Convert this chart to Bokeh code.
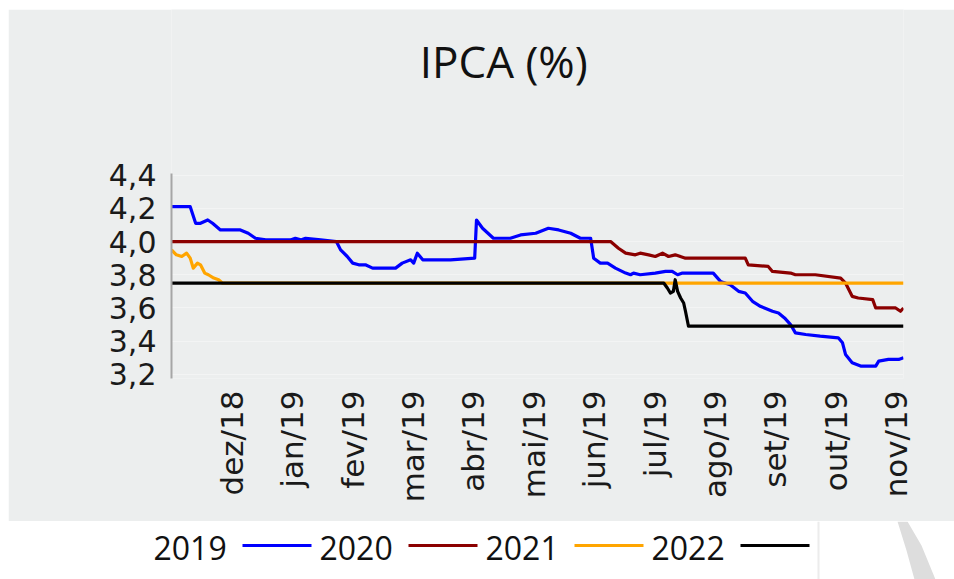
import math
from bokeh.plotting import figure
from bokeh.models import Range1d, FixedTicker, CustomJSTickFormatter
from bokeh.embed import file_html
from bokeh.resources import INLINE
from bokeh.core.properties import value

# ---------------- data ----------------
month_labels = ["dez/18", "jan/19", "fev/19", "mar/19", "abr/19", "mai/19",
                "jun/19", "jul/19", "ago/19", "set/19", "out/19", "nov/19"]
month_pos = [1, 2, 3, 4, 5, 6, 7, 8, 9, 10, 11, 12]
y_ticks = [3.2, 3.4, 3.6, 3.8, 4.0, 4.2, 4.4]
years = ["2019", "2020", "2021", "2022"]
colors = ["#0000ff", "#8b0000", "#ffa500", "#000000"]
title_text = "IPCA (%)"

x_2019 = [0, 0.31, 0.40, 0.48, 0.60, 0.68, 0.81, 1.14, 1.27, 1.39, 1.56, 1.97, 2.05, 2.14,
          2.22, 2.47, 2.73, 2.80, 2.91, 3.00, 3.10, 3.21, 3.33, 3.71, 3.82, 3.96, 4.01,
          4.07, 4.16, 4.29, 4.62, 5.02, 5.05, 5.15, 5.33, 5.61, 5.78, 6.03, 6.24, 6.41,
          6.61, 6.77, 6.94, 6.99, 7.10, 7.22, 7.35, 7.52, 7.60, 7.65, 7.76, 8.01, 8.18,
          8.29, 8.38, 8.46, 8.97, 9.09, 9.25, 9.39, 9.50, 9.62, 9.75, 9.95, 10.05, 10.15,
          10.25, 10.33, 10.50, 10.74, 11.04, 11.11, 11.16, 11.27, 11.41, 11.66, 11.71,
          11.87, 12.04, 12.12]
v_2019 = [4.21, 4.21, 4.11, 4.11, 4.13, 4.11, 4.07, 4.07, 4.05, 4.02, 4.01, 4.01, 4.02, 4.01,
          4.02, 4.01, 4.00, 3.95, 3.91, 3.87, 3.86, 3.86, 3.84, 3.84, 3.87, 3.89, 3.87,
          3.93, 3.89, 3.89, 3.89, 3.90, 4.13, 4.08, 4.02, 4.02, 4.04, 4.05, 4.08, 4.07,
          4.05, 4.02, 4.02, 3.90, 3.87, 3.87, 3.84, 3.81, 3.80, 3.81, 3.80, 3.81, 3.82,
          3.82, 3.80, 3.81, 3.81, 3.76, 3.74, 3.70, 3.69, 3.64, 3.61, 3.58, 3.57, 3.54,
          3.50, 3.45, 3.44, 3.43, 3.42, 3.39, 3.32, 3.27, 3.25, 3.25, 3.28,
          3.29, 3.29, 3.30]

x_2020 = [0, 7.27, 7.40, 7.52, 7.68, 7.76, 7.90, 8.01, 8.13, 8.23, 8.34, 8.51, 9.50, 9.55,
          9.88, 9.95, 10.25, 10.33, 10.66, 11.08, 11.16, 11.27, 11.37, 11.61, 11.66, 11.99,
          12.07, 12.12]
v_2020 = [4.00, 4.00, 3.96, 3.93, 3.92, 3.93, 3.92, 3.91, 3.93, 3.91, 3.92, 3.90, 3.90, 3.86,
          3.85, 3.82, 3.81, 3.80, 3.80, 3.78, 3.75, 3.67, 3.66, 3.65, 3.60, 3.60,
          3.58, 3.60]

x_2021 = [0, 0.08, 0.17, 0.25, 0.31, 0.36, 0.43, 0.48, 0.55, 0.61, 0.70, 0.78, 0.84, 0.89, 12.12]
v_2021 = [3.95, 3.92, 3.91, 3.93, 3.90, 3.84, 3.87, 3.86, 3.81, 3.80, 3.78, 3.77, 3.75, 3.75, 3.75]

x_2022 = [0, 8.15, 8.21, 8.26, 8.31, 8.34, 8.38, 8.43, 8.48, 8.51, 8.56, 12.12]
v_2022 = [3.75, 3.75, 3.72, 3.69, 3.70, 3.77, 3.70, 3.66, 3.63, 3.58, 3.49, 3.49]

series_x = [x_2019, x_2020, x_2021, x_2022]
series_v = [v_2019, v_2020, v_2021, v_2022]

# ---------------- main chart ----------------
BG = "#eceeee"
Y_LO, Y_HI = 3.175, 4.41
p = figure(width=946, height=512,
           x_range=Range1d(0, 12.12), y_range=Range1d(Y_LO, 5.398),
           output_backend="svg", toolbar_location=None,
           min_border_left=163, min_border_right=51,
           min_border_top=0, min_border_bottom=143)
p.styles = {"margin-left": "8px", "margin-top": "9px"}
p.background_fill_color = BG
p.border_fill_color = BG
p.outline_line_color = None

p.xgrid.visible = False
p.ygrid.ticker = FixedTicker(ticks=y_ticks)
p.ygrid.grid_line_color = "#f3f4f4"
p.ygrid.grid_line_width = 1

p.yaxis.bounds = (Y_LO, Y_HI)
p.yaxis.ticker = FixedTicker(ticks=y_ticks)
p.yaxis.formatter = CustomJSTickFormatter(code="return tick.toFixed(1).replace('.', ',');")
p.yaxis.major_label_text_font = "DejaVu Sans"
p.yaxis.major_label_text_font_size = "30px"
p.yaxis.major_label_text_color = "#1a1a1a"
p.yaxis.axis_line_color = "#a6a6a6"
p.yaxis.axis_line_width = 2
p.yaxis.major_tick_line_color = None
p.yaxis.minor_tick_line_color = None
p.yaxis.major_tick_out = 0
p.yaxis.minor_tick_out = 0
p.yaxis.major_label_standoff = 15

p.xaxis.ticker = FixedTicker(ticks=month_pos)
p.xaxis.major_label_overrides = {m: lab for m, lab in zip(month_pos, month_labels)}
p.xaxis.major_label_orientation = math.pi / 2
p.xaxis.major_label_text_font = "DejaVu Sans"
p.xaxis.major_label_text_font_size = "31px"
p.xaxis.major_label_text_color = "#1a1a1a"
p.xaxis.axis_line_color = None
p.xaxis.major_tick_line_color = None
p.xaxis.minor_tick_line_color = None
p.xaxis.major_tick_out = 0
p.xaxis.minor_tick_out = 0
p.xaxis.major_label_standoff = 12

for xs, vs, c in zip(series_x, series_v, colors):
    p.line(xs, vs, line_color=c, line_width=3.2, line_join="round")

p.text(x=[5.5], y=[5.09], text=[title_text], text_align="center",
       text_baseline="middle", text_font=value("Open Sans"),
       text_font_size="44px", text_color="#111111")

# ---------------- legend strip ----------------
leg = figure(width=954, height=58, x_range=Range1d(0, 954), y_range=Range1d(579, 521),
             output_backend="svg", toolbar_location=None, min_border=0,
             x_axis_type=None, y_axis_type=None)
leg.outline_line_color = None
leg.background_fill_color = "white"
leg.border_fill_color = "white"
leg.grid.visible = False

start_x, step_x = 153, 166
for i, (yr, c) in enumerate(zip(years, colors)):
    x0 = start_x + step_x * i
    leg.text(x=[x0], y=[547], text=[yr], text_font=value("Open Sans"),
             text_font_size="32px", text_baseline="middle", text_align="left",
             text_color="#111111")
    leg.segment(x0=[x0 + 89], y0=[545], x1=[x0 + 158], y1=[545], line_color=c, line_width=3)

# page decoration on the right
leg.segment(x0=[818], y0=[521], x1=[818], y1=[579], line_color="#ececec", line_width=2)
leg.patch(x=[897, 907, 921, 935, 914, 906], y=[521, 521, 545, 579, 579, 550],
          fill_color="#dddddd", line_color=None)

open("out.html", "w").write(file_html([p, leg], INLINE))
